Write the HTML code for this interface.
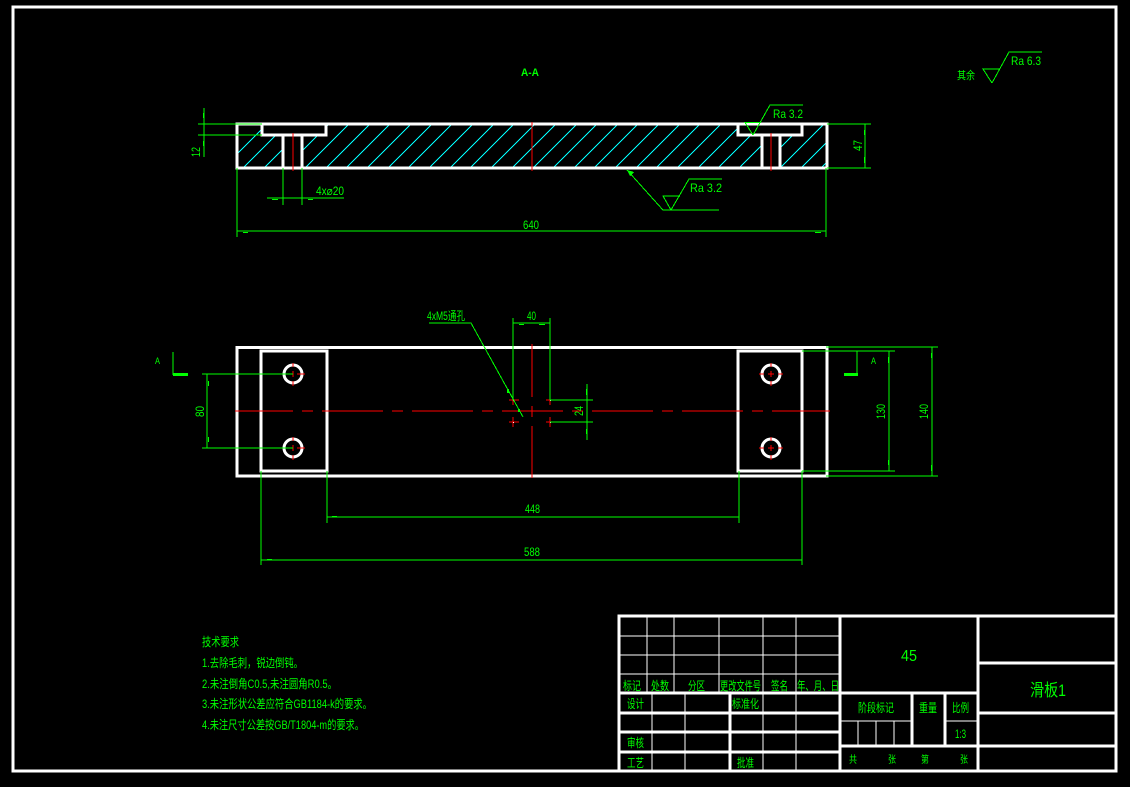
<!DOCTYPE html>
<html><head><meta charset="utf-8"><style>
html,body{margin:0;padding:0;background:#000;width:1130px;height:787px;overflow:hidden}
svg{display:block}
.w{stroke:#fff;stroke-width:3;fill:none}
.t{stroke:#fff;stroke-width:1;fill:none}
.g{stroke:#0f0;stroke-width:1;fill:none}
.r{stroke:#f00;stroke-width:1;fill:none}
.c{stroke:#0ff;stroke-width:1;fill:none}
text{fill:#0f0;font-family:"Liberation Sans","Noto Sans CJK SC",sans-serif;font-size:12px;shape-rendering:auto}
</style></head><body>
<svg width="1130" height="787" viewBox="0 0 1130 787" xmlns="http://www.w3.org/2000/svg" shape-rendering="crispEdges">
<defs>
<clipPath id="hc"><path d="M237 124H262V135H283V168H237ZM302 168V135H326V124H738V135H762V168ZM780 168V135H802V124H827V168Z"/></clipPath>
</defs>
<rect x="0" y="0" width="1130" height="787" fill="#000"/>
<rect class="w" x="13" y="7" width="1103" height="764"/>

<!-- hatch -->
<g class="c" clip-path="url(#hc)">
<path d="M243 168l44 -44M264 168l44 -44M285 168l44 -44M305 168l44 -44M326 168l44 -44M346 168l44 -44M367 168l44 -44M388 168l44 -44M408 168l44 -44M429 168l44 -44M450 168l44 -44M470 168l44 -44M491 168l44 -44M512 168l44 -44M533 168l44 -44M553 168l44 -44M574 168l44 -44M594 168l44 -44M615 168l44 -44M636 168l44 -44M656 168l44 -44M677 168l44 -44M698 168l44 -44M718 168l44 -44M739 168l44 -44M760 168l44 -44M780 168l44 -44M801 168l44 -44M821 168l44 -44M223 168l44 -44"/>
</g>

<!-- section view -->
<g class="w">
<rect x="237" y="124" width="590" height="44"/>
<path d="M262 124V135H326V124M283 135V168M302 135V168M738 124V135H802V124M762 135V168M780 135V168"/>
</g>
<g class="r"><path d="M532 122V171M293 133V171M771 133V171"/></g>

<!-- plan view -->
<g class="w">
<rect x="237" y="347.5" width="590" height="128.500"/>
<rect x="261" y="351" width="66" height="120"/>
<rect x="738" y="351" width="64" height="120"/>
</g>
<g shape-rendering="auto" stroke="#fff" stroke-width="3" fill="none">
<circle cx="293" cy="374" r="9"/><circle cx="293" cy="448" r="9"/>
<circle cx="771" cy="374" r="9"/><circle cx="771" cy="448" r="9"/>
</g>
<g class="r">
<path d="M235 411H293M302 411H313M322 411H383M392 411H403M412 411H473M482 411H493M502 411H563M572 411H583M592 411H653M662 411H673M682 411H743M752 411H763M772 411H830"/>
<path d="M532 344V397M532 406V417M532 426V478"/>
<path d="M293 363V367M293 371V377M293 381V386M297 374H305M293 437V441M293 445V451M293 455V460M297 448H305"/>
<path d="M771 363V367M771 371V377M771 381V386M759 374H764M768 374H774M778 374H783M771 437V441M771 445V451M771 455V460M759 448H764M768 448H774M778 448H783"/>
<path d="M509 400H519M513 395V405M546 400H556M550 395V405M509 422H519M513 417V427M546 422H556M550 417V427"/>
</g>
<rect x="513" y="400" width="1" height="1" fill="#fff"/><rect x="550" y="400" width="1" height="1" fill="#fff"/><rect x="513" y="422" width="1" height="1" fill="#fff"/><rect x="550" y="422" width="1" height="1" fill="#fff"/>

<!-- dimension lines -->
<g class="g">
<path d="M198 124H262M198 135H262M204 108V157"/>
<path d="M827 124H871M827 168H871M865 124V168"/>
<path d="M237 168V237M826 168V237M237 231H826"/>
<path d="M283 168V205M302 168V205M267 198H344"/>
<path d="M753 135L745 122.500H761M753 135L770 105H803"/>
<path d="M627 170L663 210H719M671 210L663 196H680M671 210L689 179H722"/>
<path d="M992 83L983 69H999M992 83L1009 52H1042"/>
<path d="M202 374H293M202 448H293M207 374V448"/>
<path d="M173 352V375M857 351V374"/>
<path d="M429 323H471L523 417"/>
<path d="M513 318V400M550 318V400M513 323H550"/>
<path d="M550 400H593M550 422H593M587 384V440"/>
<path d="M826 347H938M826 476H938M932 347V476"/>
<path d="M802 351H895M802 471H895M889 351V471"/>
<path d="M261 471V565M802 471V565M261 560H802"/>
<path d="M327 471V523M739 471V523M327 517H739"/>
</g>
<g fill="#0f0">
<rect x="173" y="373" width="15" height="3"/><rect x="844" y="373" width="14" height="3"/>
<rect x="243" y="232" width="5" height="1"/><rect x="815" y="232" width="6" height="1"/>
<rect x="272" y="199" width="6" height="1"/><rect x="308" y="199" width="5" height="1"/>
<rect x="203" y="113" width="1" height="5"/><rect x="203" y="141" width="1" height="5"/>
<rect x="864" y="130" width="1" height="5"/><rect x="864" y="157" width="1" height="6"/>
<rect x="208" y="381" width="1" height="5"/><rect x="208" y="437" width="1" height="5"/>
<rect x="519" y="324" width="5" height="1"/><rect x="539" y="324" width="6" height="1"/>
<rect x="586" y="389" width="1" height="6"/><rect x="586" y="429" width="1" height="5"/>
<rect x="888" y="357" width="1" height="6"/><rect x="888" y="460" width="1" height="5"/>
<rect x="931" y="353" width="1" height="5"/><rect x="931" y="465" width="1" height="6"/>
<rect x="332" y="516" width="5" height="1"/><rect x="267" y="559" width="5" height="1"/>
<rect x="507" y="389" width="2" height="4"/><rect x="518" y="409" width="2" height="3"/>
<path d="M627 170L634 172L630 176Z"/>
</g>

<!-- title block -->
<g class="t">
<path d="M619 636H840M619 655H840M619 674H840M647 616V693M674 616V693M719 616V693M763 616V693M796 616V693"/>
<path d="M652 693V771M685 693V771M763 693V771M796 693V771"/>
<path d="M840 721H912M945 721H978M858 721V746M876 721V746M894 721V746"/>
</g>
<g class="w">
<rect x="619" y="616" width="497" height="155"/>
<path d="M840 616V771M978 616V771M619 693H978M619 713H840M619 732H840M619 752H840M730 693V771"/>
<path d="M912 693V746M945 693V746M840 746H1116M978 663H1116M978 713H1116"/>
</g>

<g shape-rendering="auto">
<text x="521" y="76" textLength="18" lengthAdjust="spacingAndGlyphs" font-weight="bold" style="font-size:11px">A-A</text>
<text x="957" y="79" textLength="18" lengthAdjust="spacingAndGlyphs" style="font-size:11px">其余</text>
<text x="1011" y="65" textLength="30" lengthAdjust="spacingAndGlyphs">Ra 6.3</text>
<text x="773" y="118" textLength="30" lengthAdjust="spacingAndGlyphs">Ra 3.2</text>
<text x="690" y="192" textLength="32" lengthAdjust="spacingAndGlyphs">Ra 3.2</text>
<text x="316" y="195" textLength="28" lengthAdjust="spacingAndGlyphs">4x⌀20</text>
<text x="523" y="229" textLength="16" lengthAdjust="spacingAndGlyphs">640</text>
<text x="427" y="320" textLength="38" lengthAdjust="spacingAndGlyphs">4xM5通孔</text>
<text x="527" y="320" textLength="9" lengthAdjust="spacingAndGlyphs">40</text>
<text x="525" y="513" textLength="15" lengthAdjust="spacingAndGlyphs">448</text>
<text x="524" y="556" textLength="16" lengthAdjust="spacingAndGlyphs">588</text>
<text x="155" y="364" textLength="5" lengthAdjust="spacingAndGlyphs" style="font-size:9px">A</text>
<text x="871" y="364" textLength="5" lengthAdjust="spacingAndGlyphs" style="font-size:9px">A</text>
<text transform="translate(200,157) rotate(-90)" textLength="10" lengthAdjust="spacingAndGlyphs">12</text>
<text transform="translate(862,151) rotate(-90)" textLength="11" lengthAdjust="spacingAndGlyphs">47</text>
<text transform="translate(204,417) rotate(-90)" textLength="11" lengthAdjust="spacingAndGlyphs">80</text>
<text transform="translate(583,416) rotate(-90)" textLength="10" lengthAdjust="spacingAndGlyphs">24</text>
<text transform="translate(885,419) rotate(-90)" textLength="15" lengthAdjust="spacingAndGlyphs">130</text>
<text transform="translate(928,419) rotate(-90)" textLength="15" lengthAdjust="spacingAndGlyphs">140</text>

<g style="font-size:11px">
<text x="202" y="646" textLength="37" lengthAdjust="spacingAndGlyphs">技术要求</text>
<text x="202" y="667" textLength="101" lengthAdjust="spacingAndGlyphs">1.去除毛刺，锐边倒钝。</text>
<text x="202" y="688" textLength="135" lengthAdjust="spacingAndGlyphs">2.未注倒角C0.5,未注圆角R0.5。</text>
<text x="202" y="708" textLength="170" lengthAdjust="spacingAndGlyphs">3.未注形状公差应符合GB1184-k的要求。</text>
<text x="202" y="729" textLength="162" lengthAdjust="spacingAndGlyphs">4.未注尺寸公差按GB/T1804-m的要求。</text>
</g>

<text x="623" y="690" textLength="18" lengthAdjust="spacingAndGlyphs">标记</text>
<text x="651" y="690" textLength="18" lengthAdjust="spacingAndGlyphs">处数</text>
<text x="688" y="690" textLength="17" lengthAdjust="spacingAndGlyphs">分区</text>
<text x="720" y="690" textLength="41" lengthAdjust="spacingAndGlyphs">更改文件号</text>
<text x="771" y="690" textLength="17" lengthAdjust="spacingAndGlyphs">签名</text>
<text x="797" y="690" textLength="42" lengthAdjust="spacingAndGlyphs">年、月、日</text>
<text x="627" y="708" textLength="17" lengthAdjust="spacingAndGlyphs">设计</text>
<text x="732" y="708" textLength="27" lengthAdjust="spacingAndGlyphs">标准化</text>
<text x="627" y="747" textLength="17" lengthAdjust="spacingAndGlyphs">审核</text>
<text x="627" y="767" textLength="17" lengthAdjust="spacingAndGlyphs">工艺</text>
<text x="737" y="767" textLength="17" lengthAdjust="spacingAndGlyphs">批准</text>
<text x="901" y="661" textLength="16" lengthAdjust="spacingAndGlyphs" style="font-size:16px">45</text>
<text x="858" y="712" textLength="36" lengthAdjust="spacingAndGlyphs">阶段标记</text>
<text x="919" y="712" textLength="18" lengthAdjust="spacingAndGlyphs">重量</text>
<text x="952" y="712" textLength="17" lengthAdjust="spacingAndGlyphs">比例</text>
<text x="955" y="738" textLength="11" lengthAdjust="spacingAndGlyphs">1:3</text>
<text x="849" y="763" textLength="8" lengthAdjust="spacingAndGlyphs" style="font-size:10px">共</text>
<text x="888" y="763" textLength="8" lengthAdjust="spacingAndGlyphs" style="font-size:10px">张</text>
<text x="921" y="763" textLength="8" lengthAdjust="spacingAndGlyphs" style="font-size:10px">第</text>
<text x="960" y="763" textLength="8" lengthAdjust="spacingAndGlyphs" style="font-size:10px">张</text>
<text x="1030" y="696" textLength="36" lengthAdjust="spacingAndGlyphs" style="font-size:17px">滑板1</text>
</g>
</svg>
</body></html>
